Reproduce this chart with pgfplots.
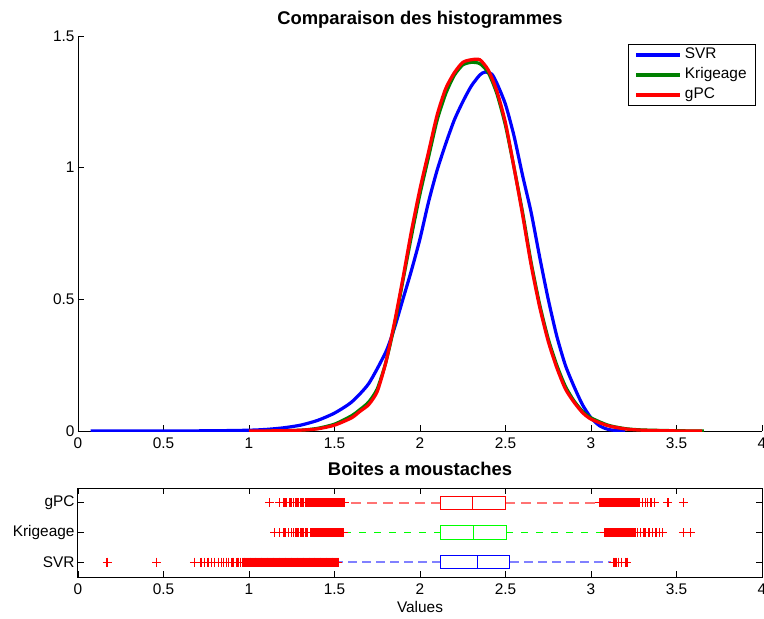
\documentclass[border=0pt]{standalone}
\usepackage{pgfplots}
\pgfplotsset{compat=1.18}
\usepgfplotslibrary{statistics}
\usepackage{fontspec}
\setmainfont{Liberation Sans}
\definecolor{mgreen}{rgb}{0,0.5,0}
\definecolor{lgreen}{rgb}{0,1,0}
\newcommand\tfont{\fontsize{15.4}{18}\selectfont}
\newcommand\bfont{\fontsize{18.4}{22}\selectfont\bfseries}
\pgfplotsset{
  every tick label/.append style={font=\tfont},
  /pgf/number format/assume math mode=true,
  xticklabel style={yshift=-3pt},
  outl/.style={only marks, red, mark=+, mark size=4.5pt, mark options={line width=1.3pt}},
}
\begin{document}
\begin{tikzpicture}
\begin{axis}[
  at={(78pt,-431pt)}, anchor=south west,
  scale only axis, width=684pt, height=395pt,
  xmin=0, xmax=4, ymin=0, ymax=1.5,
  axis lines=left, axis line style={-, line width=0.8pt},
  xtick={0,0.5,...,4}, ytick={0,0.5,1,1.5},
  tick align=inside, major tick length=6pt,
  tick style={line width=0.8pt, black},
  every axis title/.style={at={(0.5,1)}, anchor=base, yshift=12pt, font=\bfont},
  title={Comparaison des histogrammes},
  legend image code/.code={\draw[#1] (0pt,0pt) -- (44pt,0pt);},
  legend cell align=left,
  legend style={at={(1,1)}, anchor=north east, xshift=-6pt, yshift=-8pt,
    font=\tfont, draw=black, line width=0.8pt, inner xsep=6pt, inner ysep=0.5pt,
    row sep=0pt, nodes={inner sep=3pt, text height=10.5pt, text depth=3.5pt}},
]
\addplot[blue, line width=3.2pt, smooth, tension=0.4] coordinates {
(0.074,0) (0.5,0) (0.8,0.001) (1.0,0.003) (1.1,0.006) (1.2,0.012) (1.3,0.022)
(1.4,0.040) (1.5,0.068) (1.6,0.11) (1.7,0.18) (1.8,0.30) (1.85,0.39) (1.9,0.50)
(1.95,0.61) (2.0,0.73) (2.05,0.87) (2.1,0.99) (2.15,1.09) (2.2,1.18) (2.25,1.25)
(2.3,1.31) (2.35,1.352) (2.38,1.363) (2.42,1.355) (2.45,1.32) (2.5,1.24) (2.55,1.12)
(2.6,0.97) (2.65,0.83) (2.7,0.66) (2.75,0.50) (2.8,0.36) (2.85,0.25) (2.9,0.17)
(2.95,0.10) (3.0,0.05) (3.05,0.02) (3.1,0.006) (3.15,0.002) (3.2,0)
};
\addplot[mgreen, line width=3.2pt, smooth, tension=0.4] coordinates {
(1.1,0) (1.3,0.003) (1.4,0.01) (1.5,0.026) (1.6,0.058) (1.65,0.082) (1.7,0.11)
(1.75,0.16) (1.8,0.26) (1.85,0.40) (1.9,0.57) (1.95,0.74) (2.0,0.90) (2.05,1.04)
(2.1,1.18) (2.15,1.28) (2.2,1.35) (2.25,1.39) (2.3,1.40) (2.35,1.395) (2.4,1.36)
(2.45,1.28) (2.5,1.16) (2.55,1.00) (2.6,0.83) (2.65,0.64) (2.7,0.48) (2.75,0.35)
(2.8,0.25) (2.85,0.17) (2.9,0.115) (2.95,0.075) (3.0,0.05) (3.1,0.022) (3.2,0.009)
(3.3,0.004) (3.5,0.001) (3.66,0)
};
\addplot[red, line width=3.2pt, smooth, tension=0.4] coordinates {
(1.0,0) (1.2,0.001) (1.3,0.003) (1.4,0.008) (1.5,0.022) (1.6,0.05) (1.65,0.075)
(1.7,0.10) (1.75,0.15) (1.8,0.26) (1.85,0.41) (1.9,0.58) (1.95,0.76) (2.0,0.92)
(2.05,1.06) (2.1,1.20) (2.15,1.30) (2.2,1.36) (2.25,1.40) (2.3,1.41) (2.35,1.41)
(2.4,1.37) (2.45,1.29) (2.5,1.17) (2.55,1.00) (2.6,0.82) (2.65,0.63) (2.7,0.47)
(2.75,0.34) (2.8,0.24) (2.85,0.16) (2.9,0.11) (2.95,0.07) (3.0,0.045) (3.1,0.02)
(3.2,0.008) (3.3,0.003) (3.5,0.0005) (3.65,0)
};
\legend{SVR,Krigeage,gPC}
\end{axis}

\begin{axis}[
  at={(78pt,-577pt)}, anchor=south west,
  scale only axis, width=684pt, height=89pt,
  xmin=0, xmax=4, ymin=0.5, ymax=3.5,
  axis line style={line width=1pt},
  xtick={0,0.5,...,4}, ytick={1,2,3}, yticklabels={SVR,Krigeage,gPC},
  tick align=inside, major tick length=6pt,
  tick style={line width=0.8pt, black},
  every axis title/.style={at={(0.5,1)}, anchor=base, yshift=13pt, font=\bfont},
  title={Boites a moustaches},
  every axis x label/.style={at={(0.5,0)}, anchor=center, yshift=-30pt, font=\tfont},
  xlabel={Values},
  boxplot/draw direction=x,
  boxplot/box extend=0.45,
  boxplot/whisker extend=0,
]
\addplot[blue, line width=1.1pt,
  boxplot prepared={lower whisker=1.525, lower quartile=2.12, median=2.337,
    upper quartile=2.526, upper whisker=3.115, draw position=1},
  boxplot/every whisker/.style={blue!50, dash pattern=on 9pt off 5pt, line width=2pt}]
  coordinates {};
\addplot[lgreen, line width=1.1pt,
  boxplot prepared={lower whisker=1.555, lower quartile=2.12, median=2.312,
    upper quartile=2.505, upper whisker=3.07, draw position=2},
  boxplot/every whisker/.style={lgreen, dash pattern=on 7pt off 8pt, line width=1.3pt}]
  coordinates {};
\addplot[red, line width=1.1pt,
  boxplot prepared={lower whisker=1.565, lower quartile=2.12, median=2.308,
    upper quartile=2.499, upper whisker=3.05, draw position=3},
  boxplot/every whisker/.style={red!55, dash pattern=on 10pt off 6pt, line width=2pt}]
  coordinates {};
% outliers SVR
\addplot[outl] coordinates {
(0.17,1) (0.46,1) (0.68,1) (0.72,1) (0.74,1) (0.76,1) (0.78,1) (0.80,1) (0.82,1) (0.84,1)
(0.85,1) (0.87,1) (0.88,1) (0.90,1) (0.91,1) (0.93,1) (0.94,1) (0.95,1) (0.96,1) (0.97,1)
(0.98,1) (0.99,1) (1.00,1) (1.01,1) (1.02,1) (1.03,1) (1.04,1) (1.05,1) (1.06,1) (1.07,1)
(1.08,1) (1.09,1) (1.10,1) (1.11,1) (1.12,1) (1.13,1) (1.14,1) (1.15,1) (1.16,1) (1.17,1)
(1.18,1) (1.19,1) (1.20,1) (1.21,1) (1.22,1) (1.23,1) (1.24,1) (1.25,1) (1.26,1) (1.27,1)
(1.28,1) (1.29,1) (1.30,1) (1.31,1) (1.32,1) (1.33,1) (1.34,1) (1.35,1) (1.36,1) (1.37,1)
(1.38,1) (1.39,1) (1.40,1) (1.41,1) (1.42,1) (1.43,1) (1.44,1) (1.45,1) (1.46,1) (1.47,1)
(1.48,1) (1.49,1) (1.50,1) (1.51,1) (1.52,1)
(0.965,1) (0.975,1) (0.985,1) (0.995,1) (1.005,1) (1.015,1) (1.025,1) (1.035,1) (1.045,1)
(1.055,1) (1.065,1) (1.075,1) (1.085,1) (1.095,1) (1.105,1) (1.115,1) (1.125,1) (1.135,1)
(1.145,1) (1.155,1) (1.165,1) (1.175,1) (1.185,1) (1.195,1) (1.205,1) (1.215,1) (1.225,1)
(1.235,1) (1.245,1) (1.255,1) (1.265,1) (1.275,1) (1.285,1) (1.295,1) (1.305,1) (1.315,1)
(1.325,1) (1.335,1) (1.345,1) (1.355,1) (1.365,1) (1.375,1) (1.385,1) (1.395,1) (1.405,1)
(1.415,1) (1.425,1) (1.435,1) (1.445,1) (1.455,1) (1.465,1) (1.475,1) (1.485,1) (1.495,1)
(1.505,1) (1.515,1)
(3.13,1) (3.14,1) (3.15,1) (3.16,1) (3.18,1) (3.20,1) (3.21,1)
};
% outliers Krigeage
\addplot[outl] coordinates {
(1.15,2) (1.18,2) (1.20,2) (1.21,2) (1.23,2) (1.25,2) (1.26,2) (1.27,2) (1.28,2) (1.29,2)
(1.30,2) (1.31,2) (1.32,2) (1.33,2) (1.34,2) (1.36,2) (1.37,2) (1.38,2) (1.39,2) (1.40,2)
(1.41,2) (1.42,2) (1.43,2) (1.44,2) (1.45,2) (1.46,2) (1.47,2) (1.48,2) (1.49,2) (1.50,2)
(1.51,2) (1.52,2) (1.53,2) (1.54,2) (1.55,2)
(1.365,2) (1.375,2) (1.385,2) (1.395,2) (1.405,2) (1.415,2) (1.425,2) (1.435,2) (1.445,2)
(1.455,2) (1.465,2) (1.475,2) (1.485,2) (1.495,2) (1.505,2) (1.515,2) (1.525,2) (1.535,2)
(1.545,2)
(3.08,2) (3.09,2) (3.10,2) (3.11,2) (3.12,2) (3.13,2) (3.14,2) (3.15,2) (3.16,2) (3.17,2)
(3.18,2) (3.19,2) (3.20,2) (3.21,2) (3.22,2) (3.23,2) (3.24,2) (3.25,2) (3.26,2) (3.27,2)
(3.085,2) (3.095,2) (3.105,2) (3.115,2) (3.125,2) (3.135,2) (3.145,2) (3.155,2) (3.165,2)
(3.175,2) (3.185,2) (3.195,2) (3.205,2) (3.215,2) (3.225,2) (3.235,2) (3.245,2) (3.255,2)
(3.29,2) (3.31,2) (3.32,2) (3.34,2) (3.36,2) (3.38,2) (3.40,2) (3.42,2) (3.54,2) (3.58,2)
};
% outliers gPC
\addplot[outl] coordinates {
(1.12,3) (1.18,3) (1.20,3) (1.21,3) (1.22,3) (1.24,3) (1.25,3) (1.26,3) (1.27,3) (1.28,3)
(1.29,3) (1.30,3) (1.31,3) (1.32,3) (1.33,3) (1.34,3) (1.35,3) (1.36,3) (1.37,3) (1.38,3)
(1.39,3) (1.40,3) (1.41,3) (1.42,3) (1.43,3) (1.44,3) (1.45,3) (1.46,3) (1.47,3) (1.48,3)
(1.49,3) (1.50,3) (1.51,3) (1.52,3) (1.53,3) (1.54,3) (1.55,3) (1.56,3)
(1.355,3) (1.365,3) (1.375,3) (1.385,3) (1.395,3) (1.405,3) (1.415,3) (1.425,3) (1.435,3)
(1.445,3) (1.455,3) (1.465,3) (1.475,3) (1.485,3) (1.495,3) (1.505,3) (1.515,3) (1.525,3)
(1.535,3) (1.545,3) (1.555,3)
(3.05,3) (3.06,3) (3.07,3) (3.08,3) (3.09,3) (3.10,3) (3.11,3) (3.12,3) (3.13,3) (3.14,3)
(3.15,3) (3.16,3) (3.17,3) (3.18,3) (3.19,3) (3.20,3) (3.21,3) (3.22,3) (3.23,3) (3.24,3)
(3.25,3) (3.26,3) (3.27,3) (3.28,3)
(3.055,3) (3.065,3) (3.075,3) (3.085,3) (3.095,3) (3.105,3) (3.115,3) (3.125,3) (3.135,3)
(3.145,3) (3.155,3) (3.165,3) (3.175,3) (3.185,3) (3.195,3) (3.205,3) (3.215,3) (3.225,3)
(3.235,3) (3.245,3) (3.255,3) (3.265,3) (3.275,3)
(3.30,3) (3.32,3) (3.33,3) (3.35,3) (3.37,3) (3.45,3) (3.54,3)
};
\end{axis}
\pgfresetboundingbox
\path (0pt,0pt) rectangle (764pt,-619pt);
\end{tikzpicture}
\end{document}
